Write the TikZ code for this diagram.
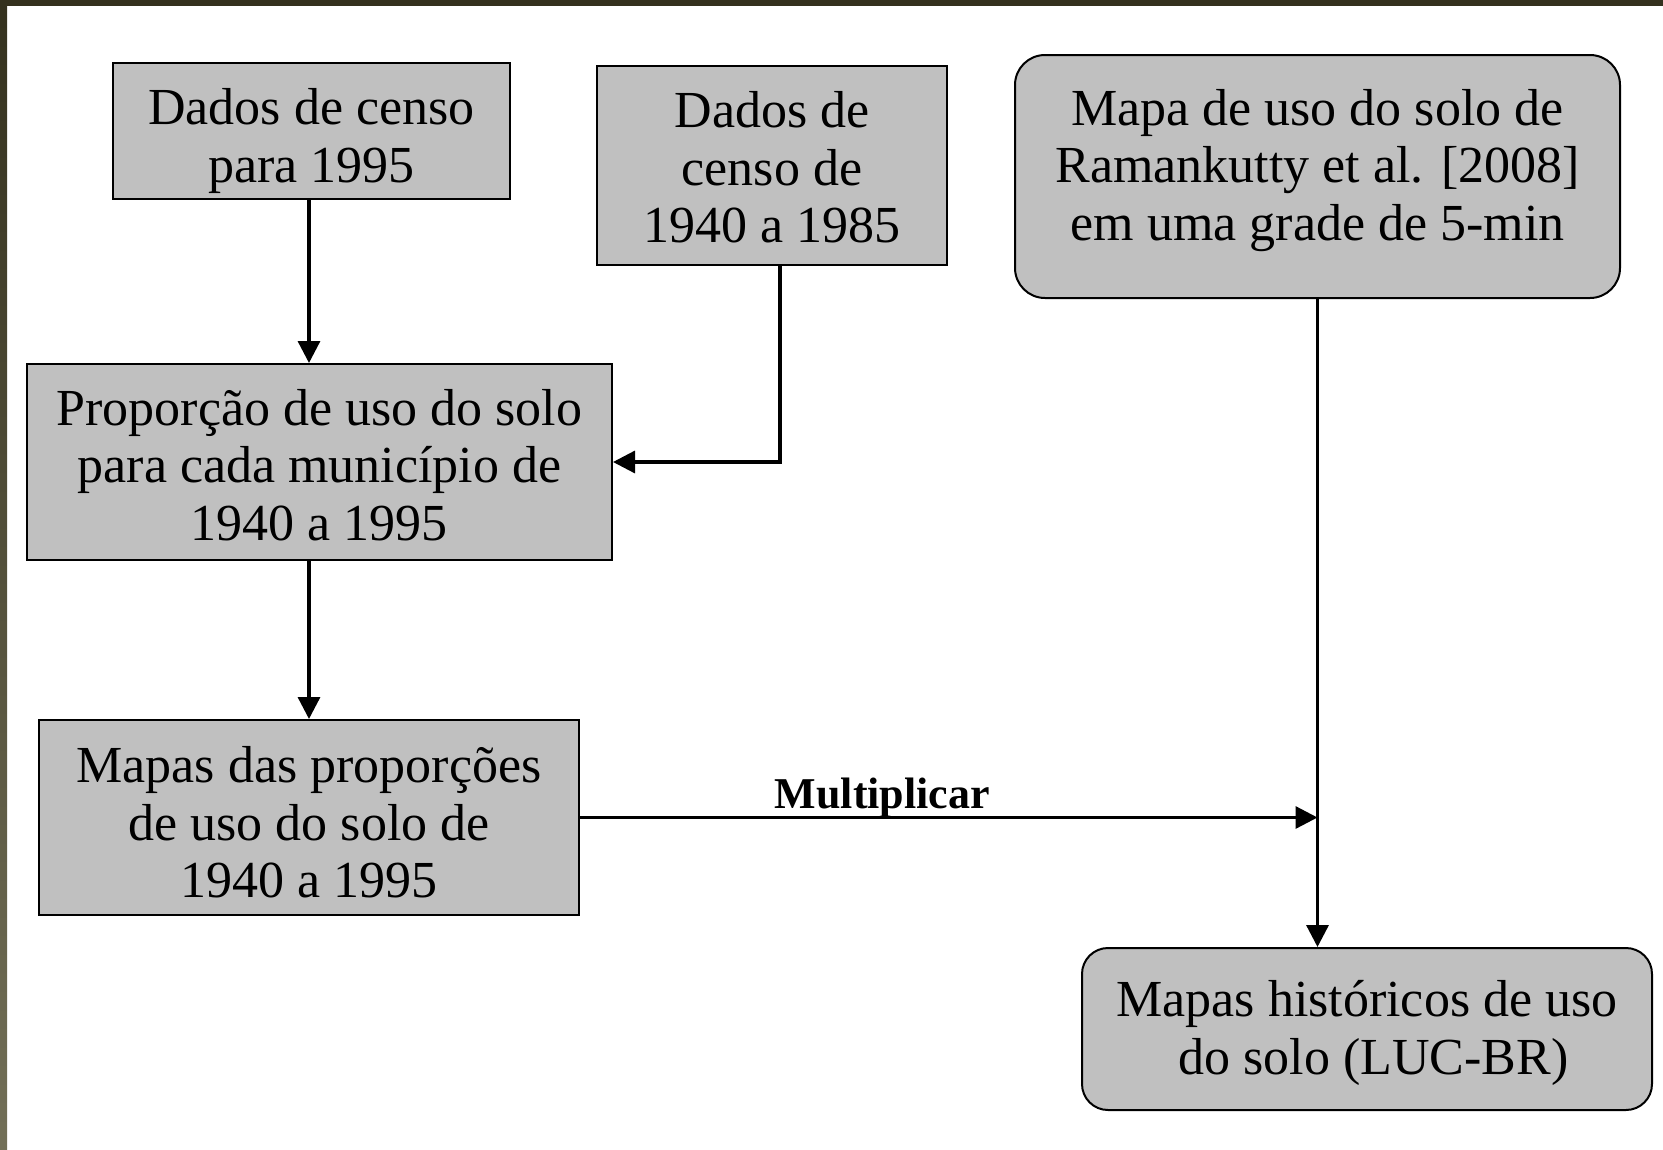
\documentclass[tikz,border=0pt]{standalone}
\usepackage{fontspec}
\setmainfont{Liberation Serif}
\usetikzlibrary{arrows.meta}
\begin{document}
\begin{tikzpicture}[x=1pt,y=-1pt,
  box/.style={draw=black,line width=2pt,fill=boxgray,inner sep=0pt},
  rbox/.style={box,rounded corners=30pt},
  txt/.style={align=center,inner sep=0pt,font=\fontsize{52}{57.5}\selectfont},
  arr/.style={line width=3.3pt,-{Triangle[length=22pt,width=22pt]}},
  lbl/.style={font=\fontsize{44}{48}\selectfont\bfseries,inner sep=0pt}]
\definecolor{boxgray}{HTML}{C0C0C0}
\definecolor{bandtop}{HTML}{34311E}
\definecolor{bandbot}{HTML}{726F57}
\useasboundingbox (0,0) rectangle (1663,1149);
\fill[white] (0,0) rectangle (1663,1149);
\shade[top color=bandtop,bottom color=bandbot] (0,0) rectangle (7,1149);
\fill[bandtop] (0,0) rectangle (1663,6);

\node[box,minimum width=397pt,minimum height=136pt,
  label={[txt,yshift=-10pt]center:Dados de censo\\para 1995}] (b1) at (311.5,131) {};
\node[box,minimum width=350pt,minimum height=199pt,
  label={[txt,yshift=-2pt]center:Dados de\\censo de\\1940 a 1985}] (b2) at (772,165.5) {};
\node[rbox,minimum width=605pt,minimum height=243pt,
  label={[txt,yshift=6pt]center:Mapa de uso do solo de\\Ramankutty et al. [2008]\\em uma grade de 5-min}] (b3) at (1317.5,176.5) {};
\node[box,minimum width=585pt,minimum height=196pt,
  label={[txt,yshift=-3pt]center:Proporção de uso do solo\\para cada município de\\1940 a 1995}] (b4) at (319.5,462) {};
\node[box,minimum width=540pt,minimum height=195pt,
  label={[txt,yshift=-5pt]center:Mapas das proporções\\de uso do solo de\\1940 a 1995}] (b5) at (309,817.5) {};
\node[rbox,rounded corners=26pt,minimum width=570pt,minimum height=162pt,
  label={[txt,yshift=-4pt]center:Mapas históricos de uso\\\ do solo (LUC-BR)}] (b6) at (1367,1029) {};

\coordinate (j) at (b3.south |- b5.east);
\draw[arr] ([xshift=-2.5pt]b1.south) -- ([xshift=-2.5pt]b1.south |- b4.north);
\draw[arr] ([xshift=8pt]b2.south) |- (b4.east);
\draw[arr] (b4.south -| b5.north) -- (b5.north);
\draw[arr] (b3.south) -- (b3.south |- b6.north);
\draw[arr] (b5.east) -- node[lbl,pos=0.41,above=-2pt] (m) {Multiplicar} (j);
\end{tikzpicture}
\end{document}
